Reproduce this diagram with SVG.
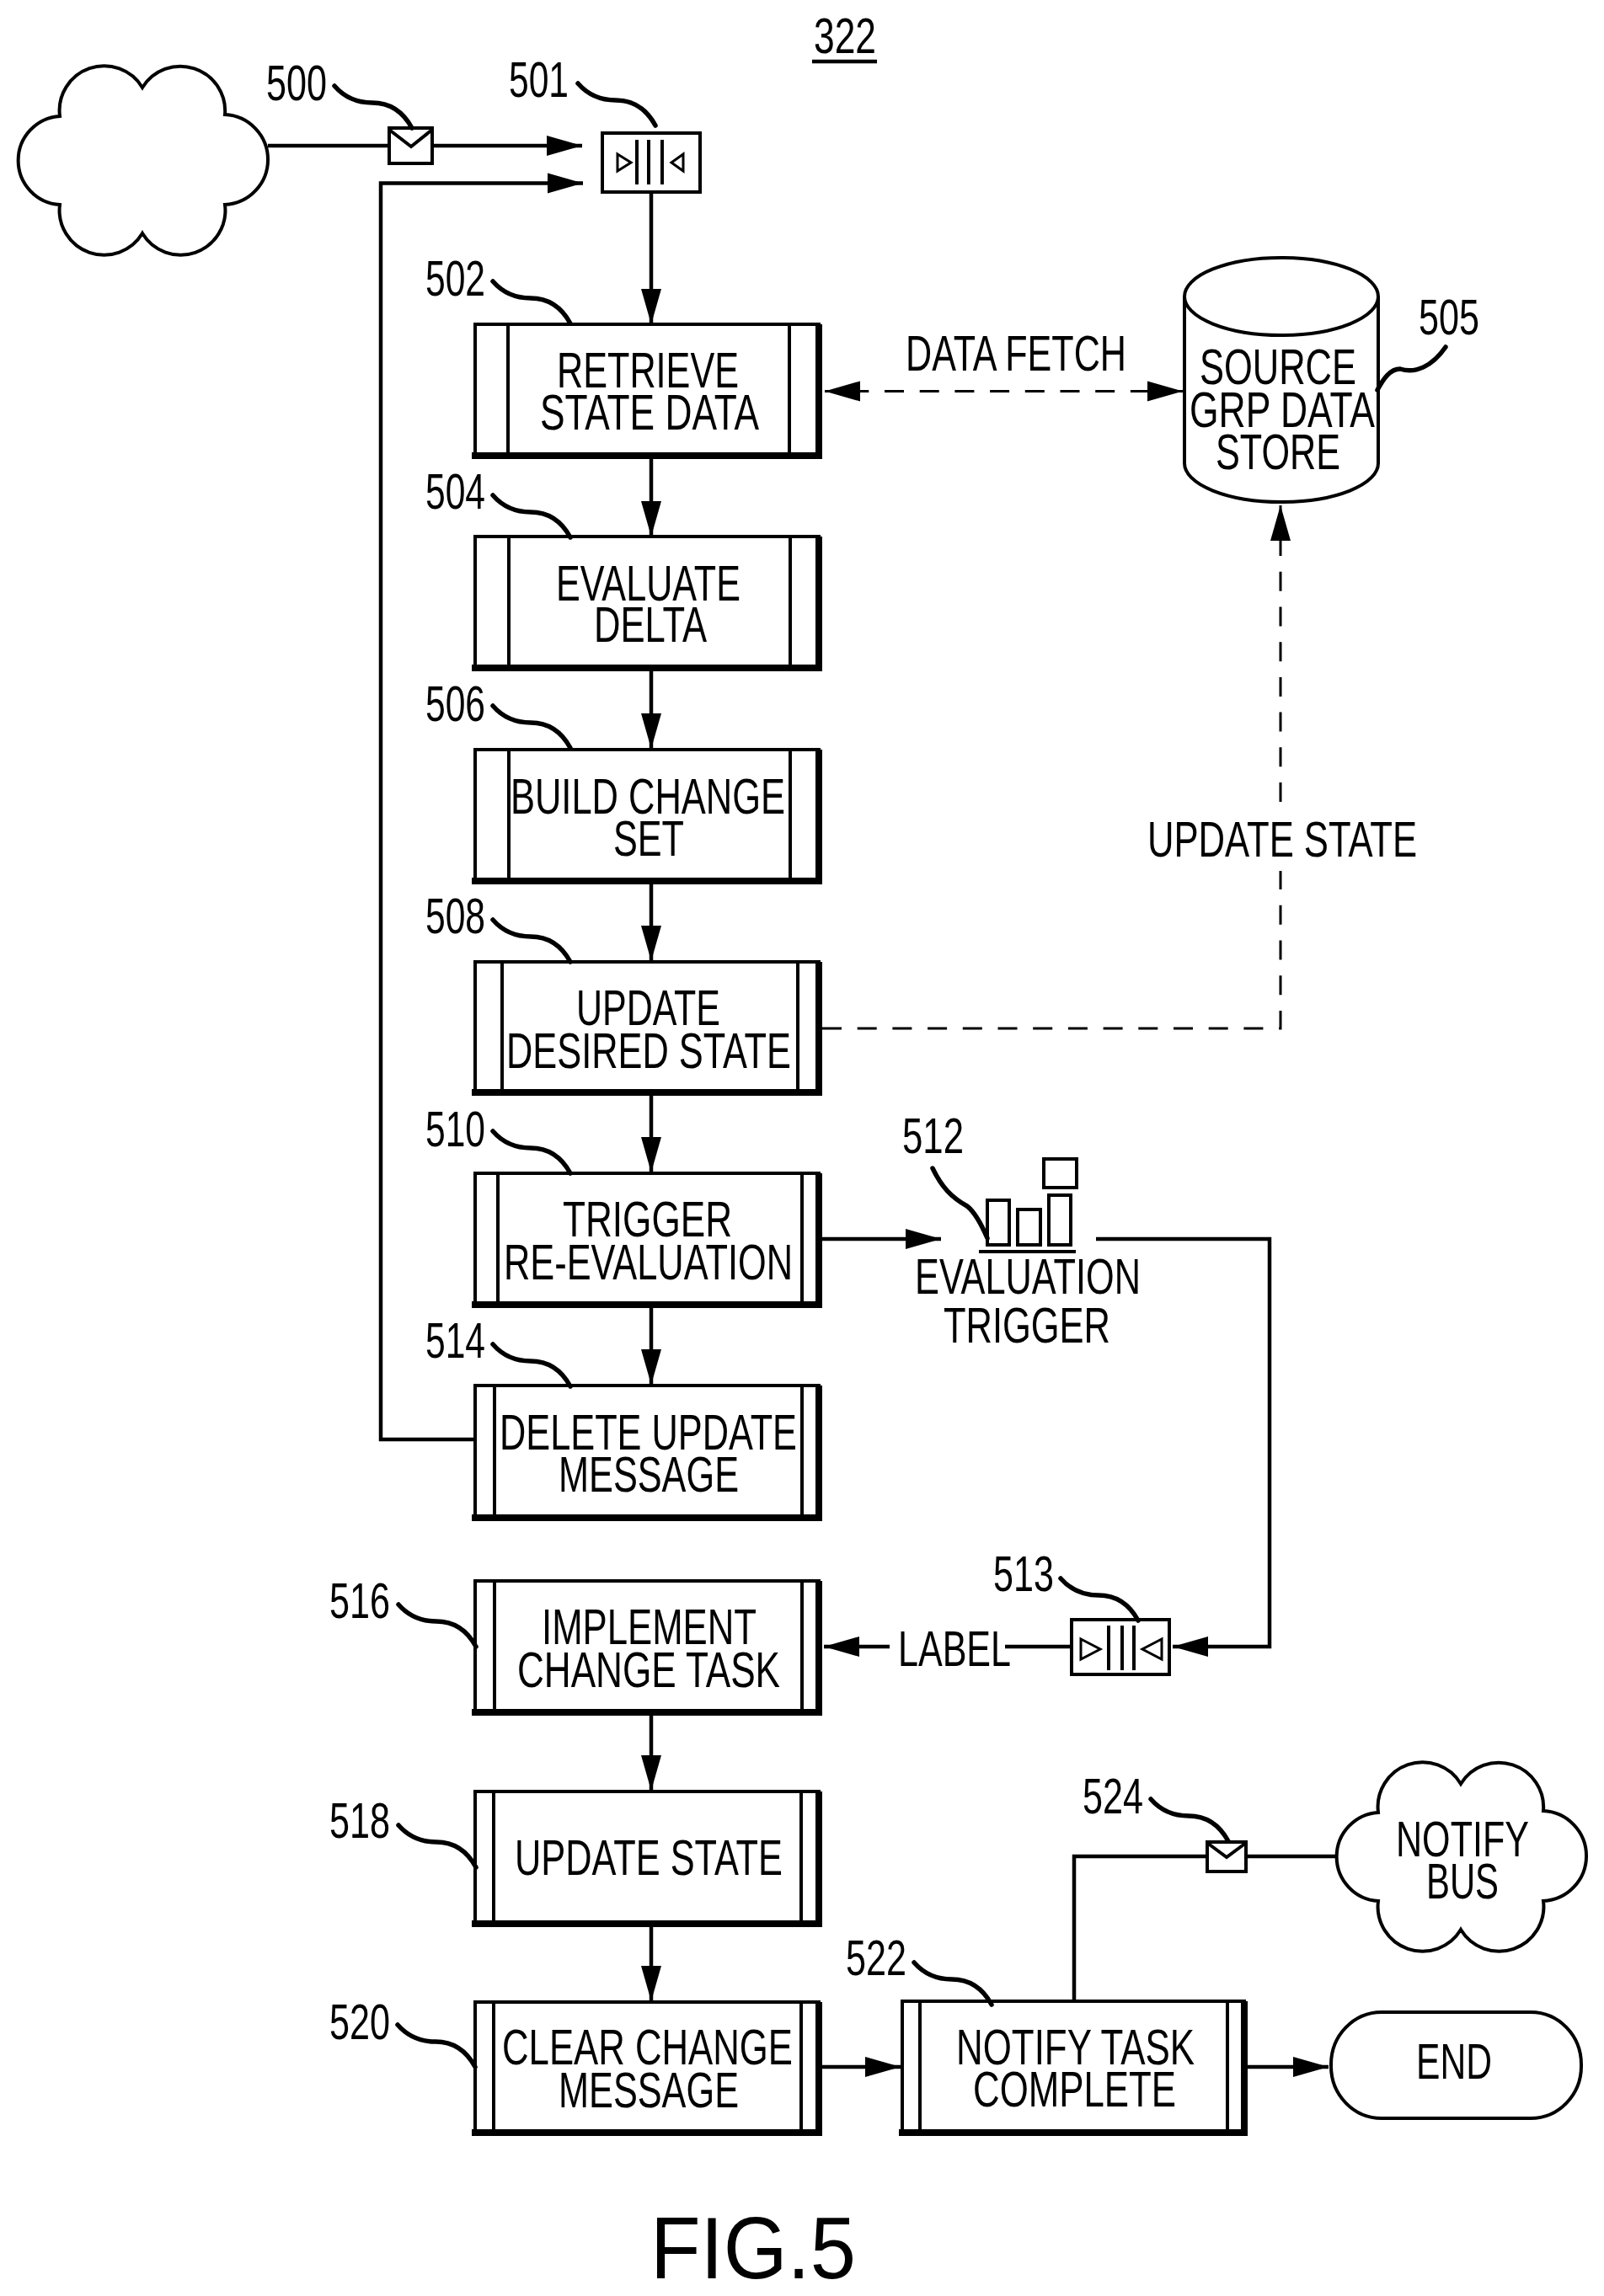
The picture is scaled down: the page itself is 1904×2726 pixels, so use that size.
<svg xmlns="http://www.w3.org/2000/svg" width="1904" height="2726" viewBox="0 0 1904 2726">
<style>
.t{font-family:"Liberation Sans",Arial,sans-serif;font-size:60px;fill:#000}
.f{font-family:"Liberation Sans",Arial,sans-serif;font-size:103px;fill:#000}
.o{fill:#fff;stroke:#000;stroke-width:4}
.n{fill:none;stroke:#000;stroke-width:4}
.h{fill:none;stroke:#000;stroke-width:8}
.c{fill:none;stroke:#000;stroke-width:4.5}
.d{fill:none;stroke:#000;stroke-width:3;stroke-dasharray:23 18.7}
.l{fill:none;stroke:#000;stroke-width:5.5;stroke-linecap:round}
</style>
<defs>
<marker id="arr" markerUnits="userSpaceOnUse" markerWidth="44" markerHeight="26" refX="42" refY="13" orient="auto-start-reverse"><path d="M0 1L42 13L0 25Z" fill="#000"/></marker>
<path id="lead" class="l" d="M0 0C14 16 30 20 45 20C64 20 80 28 92 50"/>
<path id="cloudshape" d="M169 104A53 53 0 0 1 267 136A53.560 53.560 0 0 1 267 243A53 53 0 0 1 169 277A53 53 0 0 1 71 243A52.600 52.600 0 0 1 71 138A53 53 0 0 1 169 104Z"/>
</defs>
<rect width="1904" height="2726" fill="#fff"/>
<g id="connectors">
<path class="c" d="M318 173H691" marker-end="url(#arr)"/>
<path class="c" d="M562 1709H452V217.500H692" marker-end="url(#arr)"/>
<path class="c" d="M773 229V385" marker-end="url(#arr)"/>
<path class="c" d="M773 541V637" marker-end="url(#arr)"/>
<path class="c" d="M773 793V889" marker-end="url(#arr)"/>
<path class="c" d="M773 1046V1141" marker-end="url(#arr)"/>
<path class="c" d="M773 1297V1392" marker-end="url(#arr)"/>
<path class="c" d="M773 1549V1644" marker-end="url(#arr)"/>
<path class="c" d="M773 2033V2126" marker-end="url(#arr)"/>
<path class="c" d="M773 2284V2376" marker-end="url(#arr)"/>
<path class="d" style="stroke-dashoffset:12.4" d="M979 464.500H1404" marker-start="url(#arr)" marker-end="url(#arr)"/>
<path class="d" d="M976 1221H1520V1034"/>
<path class="d" d="M1520 952V600" marker-end="url(#arr)"/>
<path class="c" d="M976 1471H1117" marker-end="url(#arr)"/>
<path class="c" d="M1301 1471H1507V1955H1392" marker-end="url(#arr)"/>
<path class="c" d="M1270 1955H1193"/>
<path class="c" d="M1056 1955H978" marker-end="url(#arr)"/>
<path class="c" d="M975 2454H1069" marker-end="url(#arr)"/>
<path class="c" d="M1481 2454H1577" marker-end="url(#arr)"/>
<path class="c" d="M1275 2376V2204H1587"/>
</g>
<g id="title"><text class="t" x="966" y="63" textLength="74" lengthAdjust="spacingAndGlyphs">322</text><path class="c" d="M964 73H1041"/></g>
<g id="cloud-source"><use href="#cloudshape" class="o"/></g>
<g id="msg-500"><rect class="o" x="462" y="152" width="51" height="42"/><path class="n" d="M462 154L488 174L513 154"/><use href="#lead" x="397" y="102"/><text class="t" x="316" y="119" textLength="72" lengthAdjust="spacingAndGlyphs">500</text></g>
<g id="queue-501"><rect class="o" x="715" y="158" width="116" height="70"/><path class="n" style="stroke-width:3" d="M733 183L749 193L733 203ZM811 183L797 193L811 203Z"/><path class="n" d="M756 166V219M770 166V219M786 166V219"/><use href="#lead" x="686" y="99"/><text class="t" x="604" y="115" textLength="71" lengthAdjust="spacingAndGlyphs">501</text></g>
<g id="box-502"><rect class="o" x="564" y="385" width="408" height="156"/><path class="h" d="M972 385V541H560"/><path class="n" d="M603 385V541M937 385V541"/><use href="#lead" x="585" y="334"/><text class="t" x="505" y="351" textLength="71" lengthAdjust="spacingAndGlyphs">502</text><text class="t" x="661" y="460" textLength="216" lengthAdjust="spacingAndGlyphs">RETRIEVE</text><text class="t" x="641" y="510" textLength="260" lengthAdjust="spacingAndGlyphs">STATE DATA</text></g>
<g id="box-504"><rect class="o" x="564" y="637" width="408" height="156"/><path class="h" d="M972 637V793H560"/><path class="n" d="M604 637V793M938 637V793"/><use href="#lead" x="585" y="588"/><text class="t" x="505" y="604" textLength="71" lengthAdjust="spacingAndGlyphs">504</text><text class="t" x="660" y="713" textLength="219" lengthAdjust="spacingAndGlyphs">EVALUATE</text><text class="t" x="705" y="762" textLength="134" lengthAdjust="spacingAndGlyphs">DELTA</text></g>
<g id="box-506"><rect class="o" x="564" y="890" width="408" height="156"/><path class="h" d="M972 890V1046H560"/><path class="n" d="M604 890V1046M938 890V1046"/><use href="#lead" x="585" y="838"/><text class="t" x="505" y="856" textLength="71" lengthAdjust="spacingAndGlyphs">506</text><text class="t" x="606" y="966" textLength="326" lengthAdjust="spacingAndGlyphs">BUILD CHANGE</text><text class="t" x="728" y="1016" textLength="84" lengthAdjust="spacingAndGlyphs">SET</text></g>
<g id="box-508"><rect class="o" x="564" y="1142" width="408" height="155"/><path class="h" d="M972 1142V1297H560"/><path class="n" d="M596 1142V1297M947 1142V1297"/><use href="#lead" x="585" y="1092"/><text class="t" x="505" y="1108" textLength="71" lengthAdjust="spacingAndGlyphs">508</text><text class="t" x="684" y="1217" textLength="171" lengthAdjust="spacingAndGlyphs">UPDATE</text><text class="t" x="601" y="1268" textLength="338" lengthAdjust="spacingAndGlyphs">DESIRED STATE</text></g>
<g id="box-510"><rect class="o" x="564" y="1393" width="408" height="156"/><path class="h" d="M972 1393V1549H560"/><path class="n" d="M591 1393V1549M952 1393V1549"/><use href="#lead" x="585" y="1343"/><text class="t" x="505" y="1361" textLength="71" lengthAdjust="spacingAndGlyphs">510</text><text class="t" x="668" y="1468" textLength="201" lengthAdjust="spacingAndGlyphs">TRIGGER</text><text class="t" x="598" y="1519" textLength="343" lengthAdjust="spacingAndGlyphs">RE-EVALUATION</text></g>
<g id="trigger-512"><path class="n" d="M1172 1425H1198V1478H1172ZM1208 1436H1235V1478H1208ZM1245 1419H1271V1478H1245ZM1239 1376H1278V1410H1239ZM1162 1486H1277"/><path class="l" d="M1107 1387C1118 1410 1130 1422 1148 1432C1158 1440 1166 1456 1172 1470"/><text class="t" x="1071" y="1369" textLength="73" lengthAdjust="spacingAndGlyphs">512</text><text class="t" x="1086" y="1536" textLength="268" lengthAdjust="spacingAndGlyphs">EVALUATION</text><text class="t" x="1120" y="1594" textLength="198" lengthAdjust="spacingAndGlyphs">TRIGGER</text></g>
<g id="box-514"><rect class="o" x="564" y="1645" width="408" height="157"/><path class="h" d="M972 1645V1802H560"/><path class="n" d="M587 1645V1802M952 1645V1802"/><use href="#lead" x="585" y="1596"/><text class="t" x="505" y="1612" textLength="71" lengthAdjust="spacingAndGlyphs">514</text><text class="t" x="593" y="1721" textLength="353" lengthAdjust="spacingAndGlyphs">DELETE UPDATE</text><text class="t" x="663" y="1771" textLength="214" lengthAdjust="spacingAndGlyphs">MESSAGE</text></g>
<g id="queue-513"><rect class="o" x="1272" y="1923" width="116" height="65"/><path class="n" style="stroke-width:3" d="M1283 1946L1306 1958L1283 1970ZM1379 1946L1356 1958L1379 1970Z"/><path class="n" d="M1316 1930V1983M1332 1930V1983M1346 1930V1983"/><use href="#lead" x="1259" y="1874"/><text class="t" x="1179" y="1889" textLength="72" lengthAdjust="spacingAndGlyphs">513</text></g>
<g id="label"><text class="t" x="1066" y="1978" textLength="134" lengthAdjust="spacingAndGlyphs">LABEL</text></g>
<g id="box-516"><rect class="o" x="564" y="1877" width="408" height="156"/><path class="h" d="M972 1877V2033H560"/><path class="n" d="M587 1877V2033M952 1877V2033"/><use href="#lead" x="473" y="1905"/><text class="t" x="391" y="1921" textLength="72" lengthAdjust="spacingAndGlyphs">516</text><text class="t" x="643" y="1952" textLength="255" lengthAdjust="spacingAndGlyphs">IMPLEMENT</text><text class="t" x="614" y="2003" textLength="312" lengthAdjust="spacingAndGlyphs">CHANGE TASK</text></g>
<g id="box-518"><rect class="o" x="564" y="2127" width="408" height="157"/><path class="h" d="M972 2127V2284H560"/><path class="n" d="M586 2127V2284M951 2127V2284"/><use href="#lead" x="473" y="2167"/><text class="t" x="391" y="2182" textLength="72" lengthAdjust="spacingAndGlyphs">518</text><text class="t" x="611" y="2226" textLength="318" lengthAdjust="spacingAndGlyphs">UPDATE STATE</text></g>
<g id="box-520"><rect class="o" x="564" y="2377" width="408" height="155"/><path class="h" d="M972 2377V2532H560"/><path class="n" d="M586 2377V2532M951 2377V2532"/><use href="#lead" x="472" y="2404"/><text class="t" x="391" y="2421" textLength="72" lengthAdjust="spacingAndGlyphs">520</text><text class="t" x="596" y="2451" textLength="345" lengthAdjust="spacingAndGlyphs">CLEAR CHANGE</text><text class="t" x="663" y="2502" textLength="214" lengthAdjust="spacingAndGlyphs">MESSAGE</text></g>
<g id="box-522"><rect class="o" x="1071" y="2376" width="406" height="156"/><path class="h" d="M1477 2376V2532H1067"/><path class="n" d="M1092 2376V2532M1457 2376V2532"/><use href="#lead" x="1085" y="2330"/><text class="t" x="1004" y="2345" textLength="72" lengthAdjust="spacingAndGlyphs">522</text><text class="t" x="1135" y="2451" textLength="283" lengthAdjust="spacingAndGlyphs">NOTIFY TASK</text><text class="t" x="1155" y="2501" textLength="241" lengthAdjust="spacingAndGlyphs">COMPLETE</text></g>
<g id="msg-524"><rect class="o" x="1433" y="2187" width="46" height="35"/><path class="n" d="M1433 2188L1456 2205L1479 2188"/><use href="#lead" x="1366" y="2136"/><text class="t" x="1285" y="2153" textLength="72" lengthAdjust="spacingAndGlyphs">524</text></g>
<g id="cloud-notify"><use href="#cloudshape" class="o" x="1565" y="2014"/><text class="t" x="1657" y="2204" textLength="158" lengthAdjust="spacingAndGlyphs">NOTIFY</text><text class="t" x="1693" y="2254" textLength="86" lengthAdjust="spacingAndGlyphs">BUS</text></g>
<g id="end"><rect class="o" x="1580" y="2389" width="297" height="126" rx="60" ry="62"/><text class="t" x="1681" y="2468" textLength="90" lengthAdjust="spacingAndGlyphs">END</text></g>
<g id="store-505"><path class="o" d="M1406 352V550A115 46 0 0 0 1636 550V352"/><ellipse class="o" cx="1521" cy="352" rx="115" ry="46"/><path class="l" d="M1635 463C1642 450 1650 438 1662 438C1680 444 1700 435 1716 412"/><text class="t" x="1684" y="397" textLength="72" lengthAdjust="spacingAndGlyphs">505</text><text class="t" x="1424" y="456" textLength="186" lengthAdjust="spacingAndGlyphs">SOURCE</text><text class="t" x="1412" y="507" textLength="220" lengthAdjust="spacingAndGlyphs">GRP DATA</text><text class="t" x="1443" y="557" textLength="148" lengthAdjust="spacingAndGlyphs">STORE</text></g>
<g id="label-data-fetch"><text class="t" x="1075" y="440" textLength="262" lengthAdjust="spacingAndGlyphs">DATA FETCH</text></g>
<g id="label-update-state"><text class="t" x="1362" y="1017" textLength="320" lengthAdjust="spacingAndGlyphs">UPDATE STATE</text></g>
<g id="fig"><text class="f" x="772" y="2705" textLength="244" lengthAdjust="spacingAndGlyphs">FIG.5</text></g>
</svg>
